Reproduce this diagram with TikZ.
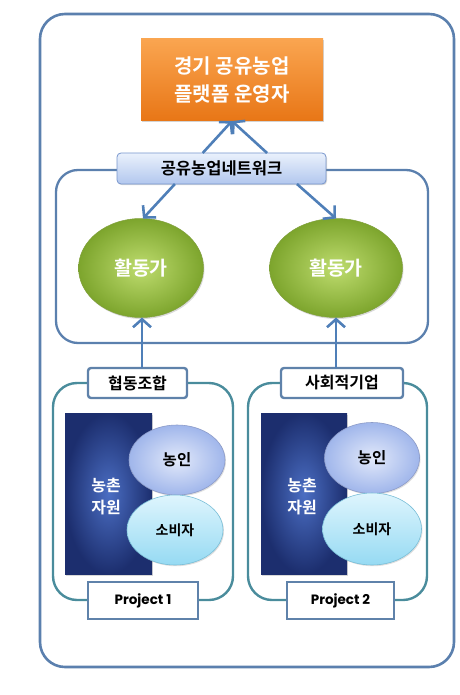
\documentclass[tikz,border=0pt]{standalone}
\usepackage{fontspec}
\newfontfamily\kr{Noto Sans CJK KR}[BoldFont={Noto Sans CJK KR Bold}]
\newfontfamily\lat{Poppins}
\usetikzlibrary{arrows.meta,calc,shadows,shapes.geometric}
\definecolor{frameblue}{RGB}{91,128,174}
\definecolor{arrowblue}{RGB}{79,127,184}
\definecolor{tealline}{RGB}{74,140,156}
\definecolor{boxline}{RGB}{95,130,170}
\tikzset{
  container/.style={draw=frameblue,line width=2.6pt,rounded corners=25pt,minimum width=#1},
  projframe/.style={draw=tealline,line width=2.4pt,rounded corners=24pt},
  orangebox/.style={draw=none,top color={rgb,255:red,250;green,165;blue,80},bottom color={rgb,255:red,232;green,118;blue,22},
    drop shadow={opacity=0.35,shadow xshift=1.2pt,shadow yshift=-1.5pt},text=white,font=\kr\bfseries\fontsize{20}{28}\selectfont,align=center},
  netlabel/.style={draw={rgb,255:red,120;green,150;blue,205},line width=0.8pt,rounded corners=4pt,
    top color={rgb,255:red,234;green,241;blue,252},bottom color={rgb,255:red,178;green,199;blue,238},
    drop shadow={opacity=0.3,shadow xshift=1pt,shadow yshift=-1.2pt},font=\kr\bfseries\fontsize{16.5}{18}\selectfont},
  greenball/.style={ellipse,draw={rgb,255:red,128;green,160;blue,60},line width=0.5pt,inner color={rgb,255:red,190;green,220;blue,110},outer color={rgb,255:red,125;green,165;blue,45},
    drop shadow={opacity=0.3,shadow xshift=1pt,shadow yshift=-1.5pt},text=white,font=\kr\bfseries\fontsize{19.5}{21}\selectfont},
  orgbox/.style={draw=boxline,line width=2.4pt,rounded corners=3pt,fill=white,font=\kr\bfseries\fontsize{16}{18}\selectfont},
  projbox/.style={draw=boxline,line width=2.4pt,fill=white,font=\lat\bfseries\fontsize{13.5}{15}\selectfont},
  resource/.style={draw=none,inner color={rgb,255:red,75;green,110;blue,195},outer color={rgb,255:red,28;green,46;blue,110},
    drop shadow={opacity=0.3,shadow xshift=1.2pt,shadow yshift=-1.5pt}},
  restext/.style={text=white,font=\kr\bfseries\fontsize{16}{22}\selectfont,align=center},
  farmer/.style={ellipse,draw={rgb,255:red,140;green,155;blue,200},line width=0.6pt,inner color={rgb,255:red,226;green,233;blue,250},outer color={rgb,255:red,160;green,182;blue,235},
    drop shadow={opacity=0.25,shadow xshift=1pt,shadow yshift=-1.2pt},font=\kr\bfseries\fontsize{15.5}{17}\selectfont},
  consumer/.style={ellipse,draw={rgb,255:red,120;green,190;blue,215},line width=0.6pt,top color={rgb,255:red,222;green,245;blue,253},bottom color={rgb,255:red,150;green,218;blue,243},
    drop shadow={opacity=0.25,shadow xshift=1pt,shadow yshift=-1.2pt},font=\kr\bfseries\fontsize{14}{16}\selectfont},
  flow/.style={draw=arrowblue,line width=2.6pt,-{Straight Barb[length=8pt,width=18pt,line width=2.6pt]}}
}
\begin{document}
\begin{tikzpicture}[x=1pt,y=-1pt,inner sep=0pt,outer sep=0pt]
\useasboundingbox (0,0) rectangle (459,695);
% outer frame
\node[container=414pt,minimum height=653pt] (outer) at (247,340.5) {};
% top operator
\node[orangebox,minimum width=182pt,minimum height=82pt] (op) at (232,80) {경기 공유농업\\플랫폼 운영자};
% network region
\node[container=372pt,minimum height=173pt,rounded corners=22pt,line width=2.3pt] (region) at (242,256.5) {};
\node[netlabel,minimum width=209pt,minimum height=31pt] (net) at (221.5,168.5) {공유농업네트워크};
% activists
\node[greenball,minimum width=125pt,minimum height=99pt] (gl) at (141,268) {활동가};
\node[greenball,minimum width=133pt,minimum height=99pt] (gr) at (336,268) {활동가};
% arrows in network
\draw[flow] ($(net.north west)!0.41!(net.north east)$) -- (op.south);
\draw[flow] ($(net.north west)!0.718!(net.north east)$) -- (op.south);
\draw[flow] ($(net.south west)!0.277!(net.south east)$) -- ($(gl.north)+(2,0)$);
\draw[flow] ($(net.south west)!0.861!(net.south east)$) -- (gr.north);
% project frames
\node[projframe,minimum width=180pt,minimum height=217pt] (pl) at (143,491.5) {};
\node[projframe,minimum width=179pt,minimum height=217pt] (pr) at (337.5,491.5) {};
% resources
\node[resource,minimum width=87pt,minimum height=161pt] (resl) at (108.5,493.5) {};
\node[resource,minimum width=86pt,minimum height=161pt] (resr) at (304,493.5) {};
\node[restext] (resltxt) at (106,497) {농촌\\자원};
\node[restext] (resrtxt) at (302,497) {농촌\\자원};
% farmers and consumers
\node[farmer,minimum width=96pt,minimum height=70pt] (fl) at (177,460) {농인};
\node[consumer,minimum width=96pt,minimum height=70pt] (cl) at (175,530) {소비자};
\node[farmer,minimum width=95pt,minimum height=71pt] (fr) at (372,458) {농인};
\node[consumer,minimum width=99pt,minimum height=72pt] (cr) at (372,529) {소비자};
% organisation labels
\node[orgbox,minimum width=99pt,minimum height=30pt] (coop) at (137.5,383) {협동조합};
\node[orgbox,minimum width=122pt,minimum height=30pt] (soc) at (342,383) {사회적기업};
% project labels
\node[projbox,minimum width=110pt,minimum height=37pt] (p1) at (143,600.5) {Project 1};
\node[projbox,minimum width=107pt,minimum height=37pt] (p2) at (340.5,600.5) {Project 2};
% upward arrows
\draw[flow] ($(gl.south |- coop.north)+(1,0)$) -- ($(gl.south)+(1,0)$);
\draw[flow] (gr.south |- soc.north) -- (gr.south);
\end{tikzpicture}
\end{document}
